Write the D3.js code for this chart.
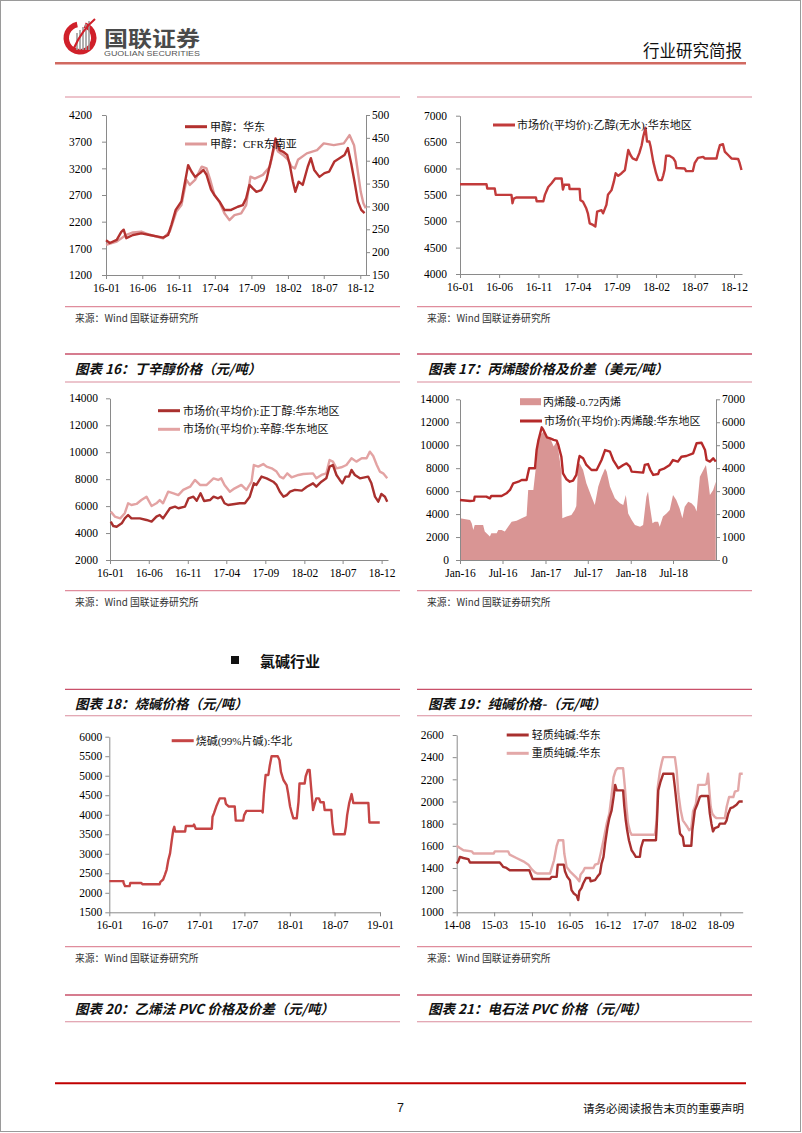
<!DOCTYPE html>
<html><head><meta charset="utf-8">
<script src="https://cdn.jsdelivr.net/npm/d3@7"></script>
<style>html,body{margin:0;padding:0;background:#fff;}svg{display:block;}</style>
</head><body>
<script>
// ---------------- DATA ----------------
const methanolEast = [["2016-01-01",1850],["2016-01-17",1800],["2016-02-15",1860],["2016-03-05",2010],["2016-03-15",2050],["2016-03-26",1890],["2016-04-23",1950],["2016-05-28",1980],["2016-07-02",1950],["2016-08-27",1900],["2016-09-17",1950],["2016-10-01",2140],["2016-10-19",2420],["2016-11-12",2580],["2016-11-26",2920],["2016-12-10",3260],["2016-12-24",3140],["2017-01-08",3040],["2017-01-29",3110],["2017-02-12",3170],["2017-02-25",3080],["2017-03-16",2800],["2017-03-30",2700],["2017-04-20",2580],["2017-05-11",2420],["2017-06-08",2420],["2017-07-06",2480],["2017-07-27",2510],["2017-08-10",2640],["2017-08-24",2890],["2017-09-08",2820],["2017-09-22",2760],["2017-10-12",2790],["2017-11-03",2980],["2017-11-24",3390],["2017-12-11",3760],["2017-12-28",3540],["2018-01-12",3510],["2018-01-29",3450],["2018-02-09",3260],["2018-02-22",2950],["2018-03-04",2760],["2018-03-18",2950],["2018-04-04",2890],["2018-04-25",3230],["2018-05-08",3390],["2018-05-22",3170],["2018-06-13",3040],["2018-07-04",3110],["2018-07-24",3140],["2018-08-15",3330],["2018-09-05",3390],["2018-09-26",3450],["2018-10-10",3580],["2018-10-24",3290],["2018-11-07",2950],["2018-11-21",2580],["2018-12-05",2420],["2018-12-19",2360]];
const methanolCFR = [["2016-01-01",216],["2016-02-15",223],["2016-03-26",238],["2016-04-23",243],["2016-05-28",245],["2016-07-02",238],["2016-08-27",230],["2016-09-24",245],["2016-10-22",289],["2016-11-12",303],["2016-12-03",358],["2016-12-17",347],["2017-01-08",358],["2017-02-05",387],["2017-02-25",383],["2017-03-11",361],["2017-03-30",325],["2017-04-20",310],["2017-05-11",285],["2017-06-01",270],["2017-06-22",281],["2017-07-20",285],["2017-08-10",303],["2017-08-28",365],["2017-09-15",361],["2017-10-19",369],["2017-11-17",387],["2017-12-08",434],["2017-12-22",420],["2018-01-12",412],["2018-02-02",402],["2018-02-16",387],["2018-03-02",383],["2018-03-15",402],["2018-04-21",416],["2018-06-03",423],["2018-07-01",438],["2018-08-12",434],["2018-09-23",438],["2018-10-17",456],["2018-11-05",434],["2018-11-19",383],["2018-12-03",332],["2018-12-14",307],["2018-12-24",296]];
const methanolTicks = ["2016-01-01","2016-06-01","2016-11-01","2017-04-01","2017-09-01","2018-02-01","2018-07-01","2018-12-01"];

const ethanol = [["2016-01-01",5700],["2016-04-13",5700],["2016-04-16",5620],["2016-05-15",5620],["2016-05-19",5500],["2016-07-19",5500],["2016-07-23",5340],["2016-07-28",5430],["2016-08-08",5450],["2016-10-22",5450],["2016-10-25",5380],["2016-11-20",5380],["2016-11-26",5500],["2016-12-09",5650],["2016-12-22",5720],["2017-01-05",5810],["2017-01-30",5810],["2017-02-04",5600],["2017-02-09",5690],["2017-02-28",5690],["2017-03-02",5610],["2017-04-10",5610],["2017-04-13",5400],["2017-04-23",5370],["2017-05-06",5240],["2017-05-12",5150],["2017-05-19",4960],["2017-06-01",4930],["2017-06-10",4900],["2017-06-17",5180],["2017-07-04",5210],["2017-07-10",5150],["2017-07-23",5310],["2017-07-29",5500],["2017-08-12",5590],["2017-08-21",5750],["2017-08-28",5910],["2017-09-07",5860],["2017-09-20",5910],["2017-10-03",5970],["2017-10-16",6350],["2017-10-25",6250],["2017-11-02",6190],["2017-11-17",6160],["2017-11-28",6290],["2017-12-07",6440],["2017-12-13",6600],["2017-12-22",6770],["2017-12-28",6510],["2018-01-06",6510],["2018-01-11",6410],["2018-01-21",6130],["2018-02-01",5910],["2018-02-10",5780],["2018-02-23",5780],["2018-03-01",5870],["2018-03-06",5970],["2018-03-12",6240],["2018-03-25",6240],["2018-04-08",6200],["2018-04-17",6130],["2018-04-21",6010],["2018-05-23",6000],["2018-05-29",5950],["2018-06-24",5950],["2018-07-01",6100],["2018-07-14",6200],["2018-08-03",6220],["2018-08-09",6190],["2018-09-24",6190],["2018-09-30",6320],["2018-10-07",6440],["2018-10-19",6460],["2018-10-26",6320],["2018-11-09",6250],["2018-11-21",6190],["2018-12-17",6180],["2018-12-23",6100],["2018-12-30",5970]];
const ethanolTicks = methanolTicks;

const butanol = [["2016-01-04",4850],["2016-01-14",4520],["2016-01-27",4470],["2016-02-16",4720],["2016-02-28",5090],["2016-03-12",5340],["2016-03-25",5090],["2016-04-27",5090],["2016-05-23",4970],["2016-06-12",4850],["2016-07-01",5220],["2016-07-14",5340],["2016-07-27",5090],["2016-08-23",5840],["2016-09-12",5960],["2016-09-25",5840],["2016-10-21",5960],["2016-11-04",6580],["2016-11-23",6700],["2016-12-06",6400],["2016-12-21",6950],["2017-01-04",6380],["2017-01-27",6450],["2017-02-10",6700],["2017-02-28",6580],["2017-03-12",6700],["2017-03-25",6210],["2017-04-08",6080],["2017-05-24",6210],["2017-06-13",6210],["2017-07-02",6700],["2017-07-18",7690],["2017-07-28",7570],["2017-08-17",8190],["2017-09-06",8060],["2017-10-02",7810],["2017-10-15",7570],["2017-10-28",7070],["2017-11-11",6700],["2017-11-24",6820],["2017-12-07",7070],["2017-12-26",7200],["2018-01-22",7150],["2018-02-11",7440],["2018-03-07",7690],["2018-03-20",7440],["2018-04-09",7810],["2018-04-28",8060],["2018-05-11",8930],["2018-05-24",9050],["2018-06-07",8310],["2018-06-20",7940],["2018-06-30",7690],["2018-07-13",8190],["2018-07-26",8190],["2018-08-05",8680],["2018-08-18",8310],["2018-09-07",8060],["2018-10-09",8190],["2018-10-22",7690],["2018-11-05",6700],["2018-11-18",6330],["2018-11-30",6900],["2018-12-14",6700],["2018-12-23",6330]];
const octanol = [["2016-01-04",5590],["2016-01-20",5220],["2016-02-10",5090],["2016-02-28",5470],["2016-03-12",6210],["2016-03-25",6080],["2016-04-14",6160],["2016-05-03",6450],["2016-05-23",6700],["2016-06-12",6010],["2016-07-01",6210],["2016-07-14",6450],["2016-07-27",6210],["2016-08-16",7070],["2016-09-06",6950],["2016-09-25",6820],["2016-10-14",7200],["2016-11-10",7440],["2016-11-29",7940],["2016-12-19",7570],["2017-01-14",7570],["2017-02-10",8060],["2017-02-28",7940],["2017-03-12",8060],["2017-03-25",7570],["2017-04-15",7070],["2017-05-04",7320],["2017-05-30",7570],["2017-06-19",7200],["2017-07-09",7810],["2017-07-18",9050],["2017-08-04",8930],["2017-08-24",9120],["2017-09-06",8930],["2017-09-26",8800],["2017-10-15",8560],["2017-10-28",8190],["2017-11-11",8060],["2017-11-26",8430],["2017-12-13",8140],["2018-01-09",8310],["2018-01-28",8380],["2018-03-07",8430],["2018-03-20",8060],["2018-04-09",8310],["2018-04-28",8430],["2018-05-11",9420],["2018-05-24",9300],["2018-06-07",8800],["2018-06-26",8880],["2018-07-16",9050],["2018-08-05",9550],["2018-08-24",9300],["2018-09-14",9550],["2018-10-03",9550],["2018-10-16",10040],["2018-10-29",9720],["2018-11-12",9050],["2018-11-24",8560],["2018-12-07",8430],["2018-12-23",8060]];
const butanolTicks = methanolTicks;

const acrylicPrice = [["2016-01-01",5230],["2016-02-13",5140],["2016-03-01",5170],["2016-03-04",5520],["2016-04-23",5520],["2016-05-08",5370],["2016-05-14",5580],["2016-06-27",5580],["2016-07-18",5810],["2016-08-02",6100],["2016-08-16",6680],["2016-09-07",6820],["2016-09-21",6970],["2016-10-12",6970],["2016-10-23",7990],["2016-11-17",7990],["2016-11-24",9580],["2016-12-02",10460],["2016-12-16",11560],["2016-12-23",11330],["2017-01-07",10690],["2017-01-21",10600],["2017-02-05",10460],["2017-02-18",10400],["2017-02-25",10020],["2017-03-10",9000],["2017-03-17",7550],["2017-04-01",7030],["2017-04-15",6820],["2017-04-29",6910],["2017-05-13",7410],["2017-05-23",8710],["2017-05-27",9060],["2017-06-11",8860],["2017-06-25",8280],["2017-07-17",7840],["2017-08-08",7840],["2017-08-29",8710],["2017-09-13",9580],["2017-10-04",9440],["2017-10-18",8710],["2017-11-09",7990],["2017-11-30",8280],["2017-12-14",8420],["2017-12-28",8130],["2018-01-05",7700],["2018-02-23",7610],["2018-03-02",8280],["2018-03-16",8360],["2018-03-26",7840],["2018-04-07",7410],["2018-04-28",7490],["2018-05-05",7840],["2018-05-26",7990],["2018-06-17",8280],["2018-07-01",8710],["2018-07-22",8570],["2018-08-06",9000],["2018-08-27",9060],["2018-09-25",9290],["2018-10-10",10170],["2018-10-31",10220],["2018-11-15",9580],["2018-11-22",8710],["2018-12-06",8570],["2018-12-20",8860],["2018-12-31",8570]];
const acrylicSpread = [["2016-01-01",1820],["2016-02-13",1740],["2016-02-20",1600],["2016-02-27",1310],["2016-03-04",1530],["2016-04-09",1530],["2016-04-16",1240],["2016-05-08",1020],["2016-05-14",1160],["2016-06-06",1160],["2016-06-13",1310],["2016-06-27",1310],["2016-07-11",1240],["2016-07-25",1450],["2016-08-09",1670],["2016-08-30",1710],["2016-09-21",1820],["2016-10-12",1920],["2016-10-19",3050],["2016-11-10",3050],["2016-11-22",4140],["2016-11-28",5230],["2016-12-09",5450],["2016-12-23",5590],["2017-01-07",5370],["2017-01-21",5300],["2017-02-05",4940],["2017-02-18",5160],["2017-02-25",4790],["2017-03-03",4360],["2017-03-10",3850],["2017-03-14",1820],["2017-04-01",1890],["2017-04-22",1960],["2017-05-06",2180],["2017-05-13",2350],["2017-05-20",4070],["2017-05-27",4210],["2017-06-11",3920],["2017-06-25",3340],["2017-07-17",2760],["2017-07-31",2400],["2017-08-15",3200],["2017-08-29",3630],["2017-09-13",3990],["2017-09-20",3850],["2017-10-04",3200],["2017-10-25",2690],["2017-11-16",2470],["2017-11-30",2400],["2017-12-11",2830],["2017-12-21",2030],["2018-01-05",1740],["2018-01-19",1530],["2018-02-10",1450],["2018-02-23",1530],["2018-03-09",2760],["2018-03-16",2980],["2018-03-23",2400],["2018-04-04",1600],["2018-04-14",1670],["2018-04-28",1670],["2018-05-05",1450],["2018-05-19",1890],["2018-06-03",2030],["2018-06-17",2180],["2018-07-01",2830],["2018-07-15",2610],["2018-07-29",2250],["2018-08-10",1820],["2018-08-20",2320],["2018-09-04",2540],["2018-09-18",2470],["2018-10-02",2320],["2018-10-10",2110],["2018-10-24",3630],["2018-11-08",3920],["2018-11-19",4140],["2018-11-29",3410],["2018-12-06",2830],["2018-12-20",3050],["2018-12-31",3410]];
const acrylicTicks = ["2016-01-01","2016-07-01","2017-01-01","2017-07-01","2018-01-01","2018-07-01"];

const causticSoda = [["2016-01-01",2300],["2016-02-27",2300],["2016-02-28",2250],["2016-03-05",2170],["2016-03-23",2170],["2016-03-26",2250],["2016-05-10",2250],["2016-05-14",2220],["2016-07-23",2220],["2016-07-26",2280],["2016-08-06",2340],["2016-08-13",2460],["2016-08-20",2590],["2016-08-27",2840],["2016-09-03",3010],["2016-09-10",3350],["2016-09-16",3610],["2016-09-20",3690],["2016-09-24",3570],["2016-11-03",3570],["2016-11-06",3710],["2016-12-06",3710],["2016-12-09",3750],["2016-12-16",3640],["2017-02-19",3640],["2017-02-22",3950],["2017-02-28",4040],["2017-03-09",4210],["2017-03-23",4420],["2017-04-13",4420],["2017-04-17",4280],["2017-04-29",4210],["2017-05-23",4210],["2017-05-27",3850],["2017-06-26",3850],["2017-06-30",3990],["2017-07-09",4100],["2017-09-09",4100],["2017-09-13",4060],["2017-09-18",4550],["2017-09-25",5020],["2017-10-06",5020],["2017-10-12",5270],["2017-10-19",5500],["2017-11-13",5500],["2017-11-20",5400],["2017-11-26",5100],["2017-12-06",4890],["2017-12-19",4760],["2017-12-25",4550],["2018-01-02",4210],["2018-01-09",4040],["2018-01-15",3910],["2018-01-29",3910],["2018-02-05",4330],["2018-02-09",4800],["2018-03-02",4800],["2018-03-06",4980],["2018-03-15",5150],["2018-03-22",5150],["2018-03-29",4630],["2018-04-05",4120],["2018-04-12",4290],["2018-04-18",4420],["2018-04-29",4420],["2018-05-05",4320],["2018-05-18",4320],["2018-05-22",4120],["2018-06-18",4120],["2018-06-22",3780],["2018-06-28",3500],["2018-08-11",3500],["2018-08-16",3690],["2018-08-21",3990],["2018-08-29",4290],["2018-09-08",4530],["2018-09-15",4300],["2018-11-15",4300],["2018-11-19",3800],["2018-12-31",3800]];
const causticTicks = ["2016-01-01","2016-07-01","2017-01-01","2017-07-01","2018-01-01","2018-07-01","2019-01-01"];

const lightSoda = [["2014-08-01",1440],["2014-08-10",1460],["2014-08-19",1500],["2014-09-08",1490],["2014-10-06",1480],["2014-10-15",1450],["2015-04-02",1450],["2015-04-12",1430],["2015-04-21",1410],["2015-05-10",1400],["2015-05-28",1380],["2015-09-16",1380],["2015-09-23",1350],["2015-10-05",1300],["2016-01-11",1300],["2016-01-21",1320],["2016-02-18",1320],["2016-02-24",1430],["2016-03-29",1430],["2016-04-05",1370],["2016-04-18",1320],["2016-05-03",1290],["2016-05-12",1200],["2016-05-25",1170],["2016-06-10",1150],["2016-06-19",1110],["2016-06-25",1190],["2016-07-08",1220],["2016-07-17",1260],["2016-08-02",1310],["2016-08-24",1310],["2016-08-28",1280],["2016-09-22",1290],["2016-10-05",1320],["2016-10-20",1350],["2016-10-29",1440],["2016-11-09",1500],["2016-11-18",1620],["2016-12-01",1760],["2016-12-12",1850],["2016-12-25",1920],["2017-01-05",2040],["2017-01-14",2150],["2017-01-23",2100],["2017-02-28",2100],["2017-03-06",1970],["2017-03-15",1830],["2017-03-23",1740],["2017-04-02",1650],["2017-04-17",1560],["2017-04-30",1530],["2017-05-11",1500],["2017-06-03",1500],["2017-06-09",1580],["2017-06-22",1650],["2017-09-02",1650],["2017-09-06",1770],["2017-09-15",2100],["2017-09-28",2180],["2017-10-13",2250],["2017-12-09",2250],["2017-12-18",2130],["2017-12-28",1980],["2018-01-07",1830],["2018-01-16",1710],["2018-02-01",1680],["2018-02-08",1600],["2018-03-21",1600],["2018-03-27",1740],["2018-04-10",1920],["2018-04-23",1970],["2018-05-08",2040],["2018-05-17",2050],["2018-06-24",2050],["2018-07-04",1890],["2018-07-13",1800],["2018-07-22",1730],["2018-08-01",1760],["2018-08-20",1770],["2018-08-29",1800],["2018-09-27",1800],["2018-10-07",1830],["2018-10-16",1890],["2018-10-29",1940],["2018-11-14",1950],["2018-12-02",1970],["2018-12-17",2000],["2019-01-06",2000]];
const denseSoda = [["2014-08-01",1600],["2014-08-19",1580],["2014-09-08",1560],["2014-10-25",1550],["2014-11-04",1530],["2015-02-26",1530],["2015-03-05",1550],["2015-05-19",1550],["2015-05-28",1520],["2015-07-05",1490],["2015-08-13",1460],["2015-09-11",1430],["2015-09-29",1390],["2015-10-18",1360],["2015-10-31",1350],["2016-01-11",1350],["2016-01-21",1400],["2016-02-03",1470],["2016-02-18",1600],["2016-02-28",1650],["2016-03-26",1650],["2016-04-01",1530],["2016-04-14",1410],["2016-05-03",1370],["2016-05-22",1340],["2016-06-10",1310],["2016-06-25",1280],["2016-07-02",1340],["2016-07-17",1370],["2016-07-26",1400],["2016-09-13",1400],["2016-09-22",1430],["2016-10-11",1440],["2016-10-24",1530],["2016-11-09",1650],["2016-11-27",1800],["2016-12-12",1890],["2016-12-25",2060],["2017-01-05",2220],["2017-01-17",2280],["2017-01-27",2300],["2017-02-28",2300],["2017-03-10",2130],["2017-03-19",1950],["2017-03-28",1800],["2017-04-08",1730],["2017-04-17",1700],["2017-08-27",1700],["2017-09-06",1830],["2017-09-12",2130],["2017-09-25",2280],["2017-10-06",2360],["2017-10-13",2400],["2017-12-18",2400],["2017-12-28",2280],["2018-01-07",2070],["2018-01-20",1920],["2018-02-01",1830],["2018-02-14",1800],["2018-02-27",1770],["2018-03-09",1740],["2018-03-21",1760],["2018-03-31",1910],["2018-04-16",1980],["2018-04-29",2150],["2018-06-06",2150],["2018-06-15",2160],["2018-06-24",2250],["2018-06-30",2120],["2018-07-09",1950],["2018-07-18",1890],["2018-08-01",1860],["2018-08-11",1850],["2018-09-27",1850],["2018-10-07",1950],["2018-10-21",2040],["2018-11-14",2040],["2018-11-23",2090],["2018-12-11",2100],["2018-12-21",2250],["2019-01-06",2250]];
const sodaTicks = ["2014-08-01","2015-03-01","2015-10-01","2016-05-01","2016-12-01","2017-07-01","2018-02-01","2018-09-01"];

// ---------------- DRAW ----------------
const parse = d3.timeParse("%Y-%m-%d");
const SERIF = "'Liberation Serif','Times New Roman','Noto Sans CJK SC',serif";
const CJK = "'Noto Sans CJK SC','Liberation Sans',sans-serif";
const svg = d3.select("body").append("svg").attr("width",802).attr("height",1133);
svg.append("rect").attr("x",0.5).attr("y",0.5).attr("width",800).attr("height",1131).attr("fill","#fff").attr("stroke","#9a9a9a");

function hline(x0,x1,y,color,w){svg.append("line").attr("x1",x0).attr("x2",x1).attr("y1",y).attr("y2",y).attr("stroke",color).attr("stroke-width",w);}
function band(x0,x1,yT,yB,title,tx){
  hline(x0,x1,yT,"#C9506A",1.3);
  hline(x0,x1,yB,"#DA8C9C",1.1);
  svg.append("text").attr("x",tx).attr("y",(yT+yB)/2).attr("dominant-baseline","central")
    .attr("font-family",CJK).attr("font-weight","bold").attr("font-style","italic").attr("font-size",13.5).attr("fill","#111").text(title);
}
function source(x0,x1,yLine,tx){
  hline(x0,x1,yLine,"#E08D9D",1.2);
  svg.append("text").attr("x",tx).attr("y",yLine+11).attr("dominant-baseline","central")
    .attr("font-family",CJK).attr("font-size",9.8).attr("fill","#333").text("来源：Wind 国联证券研究所");
}

function chart(o){
  const g = svg.append("g");
  const x = d3.scaleTime().domain(o.xDomain.map(parse)).range(o.xRange);
  const y = d3.scaleLinear().domain(o.yDomain).range(o.yRange);
  const y2 = o.y2Domain ? d3.scaleLinear().domain(o.y2Domain).range(o.yRange) : null;
  const styleAxis = a => {
    a.attr("font-family",SERIF).attr("font-size",11.5);
    a.selectAll("path,line").attr("stroke","#8a8a8a");
    a.selectAll("text").attr("fill","#000");
  };
  (o.areas||[]).forEach(s=>{
    const ys = s.axis==="right"?y2:y;
    g.append("path").datum(s.data).attr("fill",s.color)
      .attr("d",d3.area().x(d=>x(parse(d[0]))).y0(ys(0)).y1(d=>ys(d[1])));
  });
  g.append("g").attr("transform",`translate(0,${o.yRange[0]})`)
    .call(d3.axisBottom(x).tickValues(o.xTicks.map(parse)).tickFormat(d3.timeFormat(o.xFmt)).tickSize(4).tickSizeOuter(0).tickPadding(5))
    .call(styleAxis);
  g.append("g").attr("transform",`translate(${o.xRange[0]},0)`)
    .call(d3.axisLeft(y).tickValues(d3.range(o.yDomain[0],o.yDomain[1]+1,o.yStep)).tickFormat(d3.format("d")).tickSize(4).tickSizeOuter(0).tickPadding(o.padL))
    .call(styleAxis);
  if(y2){
    g.append("g").attr("transform",`translate(${o.xRange[1]},0)`)
      .call(d3.axisRight(y2).tickValues(d3.range(o.y2Domain[0],o.y2Domain[1]+1,o.y2Step)).tickFormat(d3.format("d")).tickSize(4).tickSizeOuter(0).tickPadding(2))
      .call(styleAxis);
  }
  (o.lines||[]).forEach(s=>{
    const ys = s.axis==="right"?y2:y;
    g.append("path").datum(s.data).attr("fill","none").attr("stroke",s.color).attr("stroke-width",2.4)
      .attr("stroke-linejoin","round")
      .attr("d",d3.line().x(d=>x(parse(d[0]))).y(d=>ys(d[1])));
  });
  (o.legend||[]).forEach(l=>{
    if(l.type==="rect"){
      g.append("rect").attr("x",l.x).attr("y",l.y-3.5).attr("width",21).attr("height",7).attr("fill",l.color);
    } else {
      g.append("line").attr("x1",l.x).attr("x2",l.x+22).attr("y1",l.y).attr("y2",l.y).attr("stroke",l.color).attr("stroke-width",3);
    }
    g.append("text").attr("x",l.x+l.tx).attr("y",l.y).attr("dominant-baseline","central")
      .attr("font-family",SERIF).attr("font-size",11).attr("fill","#111").text(l.label);
  });
}

// ---- header ----
const logo = svg.append("g");
logo.append("path").attr("fill-rule","evenodd").attr("fill","#D0202A")
  .attr("d",d3.arc()({innerRadius:11,outerRadius:16.5,startAngle:0.35,endAngle:2*Math.PI-0.2}))
  .attr("transform","translate(80,38)");
[[77,33],[80,30],[83,27],[86,24],[89,21]].forEach(([lx,ly])=>{
  logo.append("line").attr("x1",lx).attr("x2",lx).attr("y1",ly).attr("y2",50).attr("stroke","#9b9b9b").attr("stroke-width",1.6);
});
logo.append("path").attr("d","M74,48 Q82,30 95,19").attr("fill","none").attr("stroke","#D0202A").attr("stroke-width",2.2);
svg.append("text").attr("x",104).attr("y",46).attr("font-family",CJK).attr("font-weight","bold").attr("font-size",21)
  .attr("textLength",96).attr("lengthAdjust","spacingAndGlyphs").attr("fill","#4a4a4a").text("国联证券");
svg.append("text").attr("x",104).attr("y",56).attr("font-family","'Liberation Sans',Arial,sans-serif").attr("font-size",7)
  .attr("textLength",96).attr("lengthAdjust","spacingAndGlyphs").attr("fill","#555").text("GUOLIAN SECURITIES");
svg.append("text").attr("x",742).attr("y",50).attr("text-anchor","end").attr("dominant-baseline","central")
  .attr("font-family",CJK).attr("font-size",16.5).attr("fill","#111").text("行业研究简报");
hline(55,746,63,"#C0392B",1.5);
hline(55,746,64.5,"#EBB0B0",1);

// ---- row 1 ----
hline(65,400,97,"#DB8A9A",1.2);
hline(417,752,97,"#DB8A9A",1.2);
chart({xDomain:["2016-01-01","2018-12-25"],xRange:[106,366],xTicks:methanolTicks,xFmt:"%y-%m",
  yDomain:[1200,4200],yStep:500,yRange:[275,115],padL:10,y2Domain:[150,500],y2Step:50,
  lines:[{data:methanolCFR,color:"#DE9A9A",axis:"right"},{data:methanolEast,color:"#B3312F"}],
  legend:[{x:185,y:126.7,color:"#B3312F",label:"甲醇：华东",tx:25},{x:185,y:144,color:"#DE9A9A",label:"甲醇：CFR东南亚",tx:25}]});
chart({xDomain:["2016-01-01","2019-01-01"],xRange:[460,742],xTicks:ethanolTicks,xFmt:"%y-%m",
  yDomain:[4000,7000],yStep:500,yRange:[274,115.7],padL:9,
  lines:[{data:ethanol,color:"#C23B3B"}],
  legend:[{x:493,y:125,color:"#C23B3B",label:"市场价(平均价):乙醇(无水):华东地区",tx:24}]});
source(65,400,306.7,75);
source(417,752,306.7,427);

// ---- row 2 ----
band(65,400,354,382,"图表 16：丁辛醇价格（元/吨）",75);
band(417,752,354,382,"图表 17：丙烯酸价格及价差（美元/吨）",428);
chart({xDomain:["2016-01-01","2018-12-26"],xRange:[110,388],xTicks:butanolTicks,xFmt:"%y-%m",
  yDomain:[2000,14000],yStep:2000,yRange:[560,398.3],padL:8,
  lines:[{data:octanol,color:"#E3A3A3"},{data:butanol,color:"#A9302E"}],
  legend:[{x:158,y:410.7,color:"#A9302E",label:"市场价(平均价):正丁醇:华东地区",tx:25},{x:158,y:429.3,color:"#E3A3A3",label:"市场价(平均价):辛醇:华东地区",tx:25}]});
chart({xDomain:["2016-01-01","2019-01-01"],xRange:[460,716],xTicks:acrylicTicks,xFmt:"%b-%y",
  yDomain:[0,14000],yStep:2000,yRange:[560,399.3],padL:7,y2Domain:[0,7000],y2Step:1000,
  areas:[{data:acrylicSpread,color:"#D99594",axis:"right"}],
  lines:[{data:acrylicPrice,color:"#B52A2A"}],
  legend:[{type:"rect",x:520,y:401.7,color:"#D99594",label:"丙烯酸-0.72丙烯",tx:23},{x:520,y:421,color:"#B52A2A",label:"市场价(平均价):丙烯酸:华东地区",tx:24}]});
source(65,400,590.7,75);
source(417,752,590.7,427);

// ---- section header ----
svg.append("rect").attr("x",231).attr("y",656).attr("width",8).attr("height",8).attr("fill","#111");
svg.append("text").attr("x",260).attr("y",660).attr("dominant-baseline","central").attr("font-family",CJK)
  .attr("font-weight","bold").attr("font-size",15).attr("fill","#111").text("氯碱行业");

// ---- row 3 ----
band(65,400,689.3,715.7,"图表 18：烧碱价格（元/吨）",75);
band(417,752,689.3,715.7,"图表 19：纯碱价格-（元/吨）",428);
chart({xDomain:["2016-01-01","2019-01-01"],xRange:[109.3,380],xTicks:causticTicks,xFmt:"%y-%m",
  yDomain:[1500,6000],yStep:500,yRange:[912.3,736.7],padL:3,
  lines:[{data:causticSoda,color:"#C64545"}],
  legend:[{x:171.7,y:740.7,color:"#C64545",label:"烧碱(99%片碱):华北",tx:24}]});
chart({xDomain:["2014-08-01","2019-01-06"],xRange:[456.7,742.7],xTicks:sodaTicks,xFmt:"%y-%m",
  yDomain:[1000,2600],yStep:200,yRange:[912.3,735],padL:9,
  lines:[{data:denseSoda,color:"#E3A8A8"},{data:lightSoda,color:"#A8302F"}],
  legend:[{x:506.7,y:735,color:"#A8302F",label:"轻质纯碱:华东",tx:25},{x:506.7,y:753.3,color:"#E3A8A8",label:"重质纯碱:华东",tx:25}]});
source(65,400,946.7,75);
source(417,752,946.7,427);

// ---- row 4 ----
band(65,400,995,1021.7,"图表 20：乙烯法 PVC 价格及价差（元/吨）",75);
band(417,752,995,1021.7,"图表 21：电石法 PVC 价格（元/吨）",428);

// ---- footer ----
hline(55,746,1083.3,"#C00000",2);
svg.append("text").attr("x",400.5).attr("y",1108).attr("text-anchor","middle").attr("dominant-baseline","central")
  .attr("font-family","'Liberation Sans',Arial,sans-serif").attr("font-size",12.5).attr("fill","#111").text("7");
svg.append("text").attr("x",744).attr("y",1108).attr("text-anchor","end").attr("dominant-baseline","central")
  .attr("font-family",CJK).attr("font-size",11.5).attr("fill","#111").text("请务必阅读报告末页的重要声明");
</script>
</body></html>
